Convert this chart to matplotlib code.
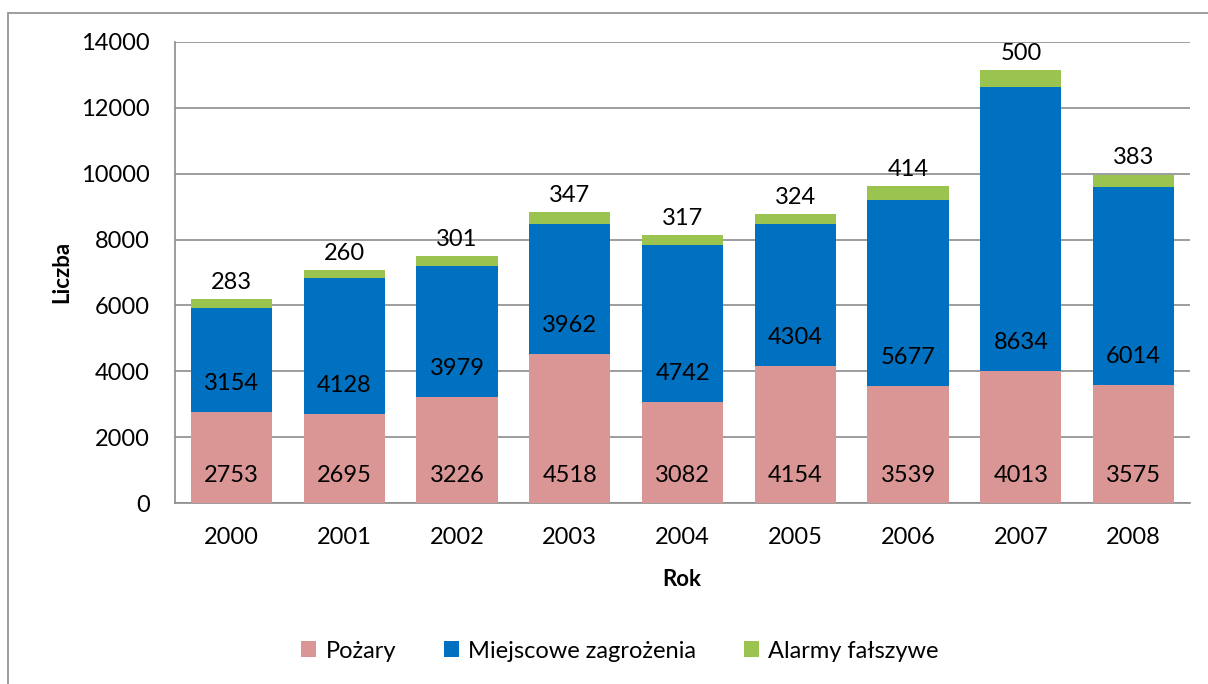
import matplotlib
matplotlib.use("Agg")
import matplotlib.pyplot as plt
from matplotlib.patches import Rectangle
import numpy as np

years = ["2000", "2001", "2002", "2003", "2004", "2005", "2006", "2007", "2008"]
pozary = [2753, 2695, 3226, 4518, 3082, 4154, 3539, 4013, 3575]
miejscowe = [3154, 4128, 3979, 3962, 4742, 4304, 5677, 8634, 6014]
alarmy = [283, 260, 301, 347, 317, 324, 414, 500, 383]
series_names = ["Pożary", "Miejscowe zagrożenia", "Alarmy fałszywe"]
colors = ["#D99694", "#0070C0", "#9BC34F"]
yticks = [0, 2000, 4000, 6000, 8000, 10000, 12000, 14000]

plt.rcParams['font.family'] = ['Lato', 'DejaVu Sans']

W, H = 1208, 684
fig = plt.figure(figsize=(W / 100, H / 100), dpi=100)
fig.patches.append(Rectangle((8 / W, -1), 2, 2 - 13 / H, transform=fig.transFigure,
                             fill=False, edgecolor="#8C8C8C", linewidth=1.2))

ax = fig.add_axes([175 / W, (H - 503) / H, (1190 - 175) / W, (503 - 42) / H])
x = np.arange(len(years))
width = 0.72
b1 = ax.bar(x, pozary, width, color=colors[0], label=series_names[0], zorder=3)
bottom2 = np.array(pozary)
b2 = ax.bar(x, miejscowe, width, bottom=bottom2, color=colors[1], label=series_names[1], zorder=3)
bottom3 = bottom2 + np.array(miejscowe)
b3 = ax.bar(x, alarmy, width, bottom=bottom3, color=colors[2], label=series_names[2], zorder=3)

fs = 17
for i in range(len(years)):
    ax.annotate(str(pozary[i]), (x[i], 0), xytext=(0, 20), textcoords="offset points",
                ha="center", va="center", fontsize=fs, zorder=5)
    ax.annotate(str(miejscowe[i]), (x[i], bottom2[i]), xytext=(0, 20.5), textcoords="offset points",
                ha="center", va="center", fontsize=fs, zorder=5)
    top = bottom3[i] + alarmy[i]
    ax.annotate(str(alarmy[i]), (x[i], top), xytext=(0, 12), textcoords="offset points",
                ha="center", va="center", fontsize=fs, zorder=5)

ax.set_xlim(-0.5, len(years) - 0.5)
ax.set_ylim(0, 14000)
ax.set_yticks(yticks)
ax.set_yticklabels([str(v) for v in yticks], fontsize=fs)
ax.set_xticks(x)
ax.set_xticklabels(years, fontsize=fs)
ax.tick_params(axis='y', length=0, pad=18)
ax.tick_params(axis='x', length=0, pad=17)
ax.grid(axis="y", color="#8C8C8C", linewidth=1.2, zorder=0)
for s in ["top", "right"]:
    ax.spines[s].set_visible(False)
for s in ["left", "bottom"]:
    ax.spines[s].set_color("#8C8C8C")
    ax.spines[s].set_linewidth(1.2)

fig.text(62 / W, 1 - 272 / H, "Liczba", rotation=90, ha="center", va="center",
         fontsize=16, fontweight="bold")
fig.text(682 / W, 1 - 579 / H, "Rok", ha="center", va="center",
         fontsize=16, fontweight="bold")

leg = fig.legend(handles=[b1, b2, b3], labels=series_names, loc="center",
                 bbox_to_anchor=(620 / W, 1 - 651 / H), ncol=3, frameon=False,
                 fontsize=fs, handlelength=0.65, handleheight=0.65, handletextpad=0.4,
                 columnspacing=2.0)

fig.savefig("out.png", dpi=100)
